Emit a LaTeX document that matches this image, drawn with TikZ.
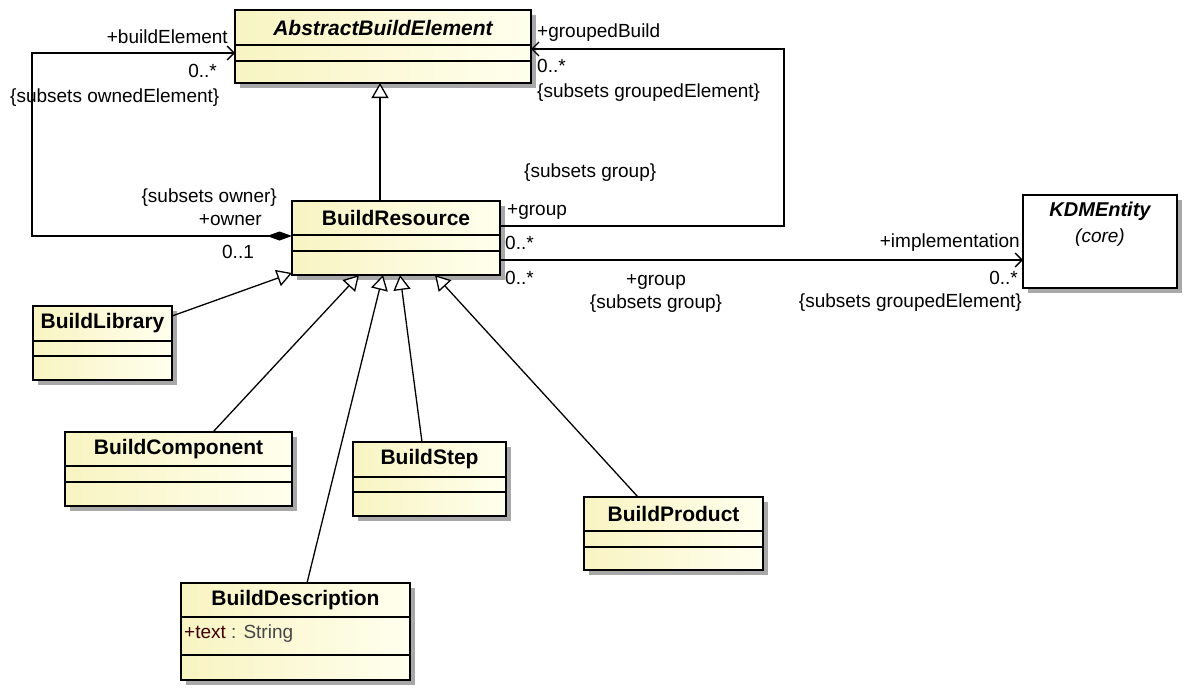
\documentclass[tikz,border=0pt]{standalone}
\usepackage{fontspec}
\setmainfont{Liberation Sans}
\usetikzlibrary{arrows.meta}
\definecolor{boxfillA}{RGB}{248,244,194}
\definecolor{boxfillB}{RGB}{255,255,238}
\definecolor{shadowc}{RGB}{168,168,168}
\definecolor{attrc}{RGB}{60,0,0}
\definecolor{typec}{RGB}{70,70,70}
\newcommand\umlclass[8]{%
  \fill[shadowc] ({#2+5},{#3+5}) rectangle ({#4+5},{#5+5});
  \node[classbox, minimum width={#4-#2}, minimum height={#5-#3}] (#1) at ({(#2+#4)/2},{(#3+#5)/2}) {};
  \draw[compline] (#2,#6) -- (#4,#6) (#2,#7) -- (#4,#7);
  \node[classname] (#1-name) at ({(#2+#4)/2},{(#3+#6)/2}) {#8};
}
\begin{document}
\begin{tikzpicture}[x=1pt,y=-1pt,
  classbox/.style={draw=black, line width=1.5pt, left color=boxfillA, right color=boxfillB, inner sep=0pt, outer sep=0pt},
  kdmbox/.style={draw=black, line width=1.5pt, fill=white, inner sep=0pt, outer sep=0pt},
  compline/.style={line width=1.5pt},
  classname/.style={font=\fontsize{21}{24}\selectfont\bfseries, inner sep=0pt},
  lbl/.style={font=\fontsize{19}{22}\selectfont, inner sep=0pt},
  conn/.style={line width=1.3pt},
  gen/.style={conn, -{Triangle[open, length=15pt, width=17pt, fill=white, line width=1.3pt]}},
  nav/.style={conn, -{Straight Barb[length=7pt, width=14pt, line width=1.3pt]}},
  comp/.style={conn, {Diamond[length=25pt, width=9pt]}-{Straight Barb[length=7pt, width=14pt, line width=1.3pt]}}
]
\useasboundingbox (0,0) rectangle (1185,691);
\fill[white] (0,0) rectangle (1185,691);

% classes
\umlclass{ABE}{235}{10}{531}{83}{45}{61}{\itshape AbstractBuildElement}
\umlclass{BR}{292}{201}{500}{275}{235}{251}{BuildResource}
\umlclass{BL}{33}{306}{172}{380}{341}{356}{BuildLibrary}
\umlclass{BC}{65}{432}{292}{506}{466}{482}{BuildComponent}
\umlclass{BS}{353}{442}{506}{516}{477}{492}{BuildStep}
\umlclass{BP}{584}{497}{763}{570}{531}{547}{BuildProduct}
\umlclass{BD}{181}{583}{410}{680}{617}{655}{BuildDescription}
\node[lbl, anchor=west] (BD-attr) at (184,634) {{\color{attrc}+text}\ {\color{typec}: String}};

% KDMEntity
\fill[shadowc] (1028,200) rectangle (1182,293);
\node[kdmbox, minimum width=154, minimum height=93] (KDM) at (1100,241.5) {};
\node[classname, font=\fontsize{20}{24}\selectfont\bfseries\itshape] (KDM-name) at (1100,211) {KDMEntity};
\node[lbl, font=\fontsize{19}{22}\selectfont\itshape] (KDM-pkg) at (1100,238) {(core)};

% generalizations
\coordinate (brtop) at ([xshift=88pt]BR.north west);
\draw[gen] (brtop) -- (brtop |- ABE.south);
\draw[gen] ([yshift=27pt]BL.east) -- ([yshift=2pt]BR.south west);
\draw[gen] ([xshift=148pt]BC.north west) -- ([xshift=67pt]BR.south west);
\draw[gen] ([xshift=126pt]BD.north west) -- ([xshift=91pt]BR.south west);
\draw[gen] ([xshift=69pt]BS.north west) -- ([xshift=108pt]BR.south west);
\draw[gen] ([xshift=54pt]BP.north west) -- ([xshift=143pt]BR.south west);

% composition owner / buildElement
\coordinate (lc) at (32,53);
\draw[comp] ([yshift=2pt]BR.west) -| (lc) -- ([yshift=-6.5pt]ABE.west);

% group / groupedBuild
\coordinate (rc) at (784,49);
\draw[nav] ([yshift=12pt]BR.east) -| (rc) -- ([yshift=-2.5pt]ABE.east);

% implementation
\coordinate (kd) at ([yshift=-22pt]BR.east);
\draw[nav] (kd) -- (kd -| KDM.west);

% labels
\node[lbl, anchor=east] (l1) at (228,37) {+buildElement};
\node[lbl, anchor=east] (l2) at (217,71) {0..*};
\node[lbl, anchor=west] (l3) at (10,98) {\{subsets ownedElement\}};
\node[lbl, anchor=west] (l4) at (537,33) {+groupedBuild};
\node[lbl, anchor=west] (l5) at (537,66) {0..*};
\node[lbl, anchor=west] (l6) at (537,93) {\{subsets groupedElement\}};
\node[lbl, anchor=west] (l7) at (524,173) {\{subsets group\}};
\node[lbl, anchor=west] (l8) at (507,212) {+group};
\node[lbl, anchor=east] (l9) at (277,198) {\{subsets owner\}};
\node[lbl, anchor=east] (l10) at (262,220) {+owner};
\node[lbl] (l11) at (238,252) {0..1};
\node[lbl, anchor=west] (l12) at (505,243) {0..*};
\node[lbl, anchor=west] (l13) at (505,278) {0..*};
\node[lbl] (l14) at (656,282) {+group};
\node[lbl] (l15) at (656,304) {\{subsets group\}};
\node[lbl, anchor=east] (l16) at (1020,243) {+implementation};
\node[lbl, anchor=east] (l17) at (1018,278) {0..*};
\node[lbl, anchor=east] (l18) at (1022,303) {\{subsets groupedElement\}};
\end{tikzpicture}
\end{document}
